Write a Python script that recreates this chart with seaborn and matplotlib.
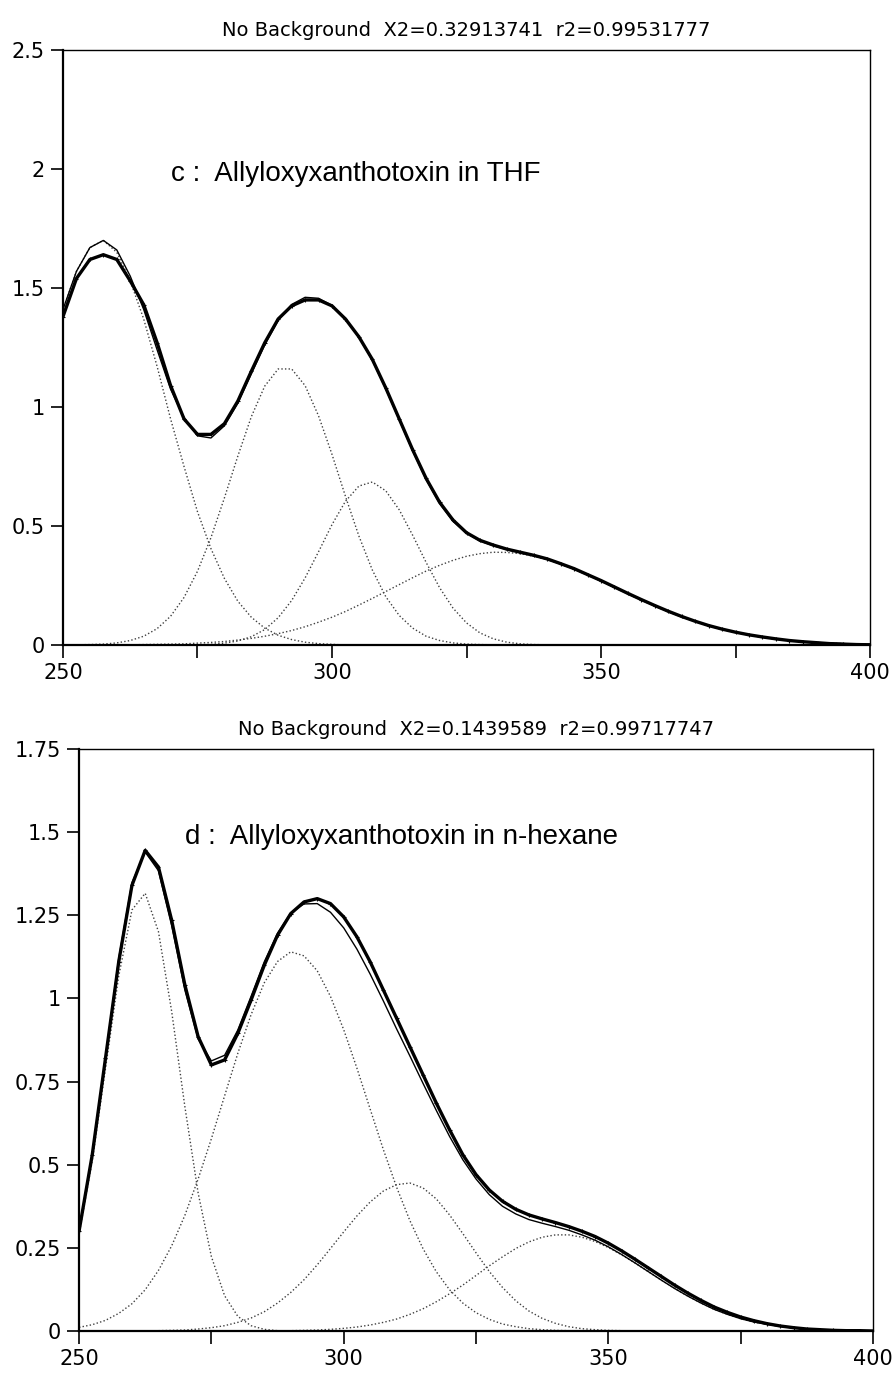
import numpy as np
import matplotlib
matplotlib.use('Agg')
import matplotlib.pyplot as plt
import seaborn as sns

sns.set_style('ticks')
plt.rcParams['font.family'] = ['DejaVu Sans']

# длины волн, нм (общая сетка для обеих панелей)
wl = np.arange(250, 400.1, 2.5)

# --- панель c: THF ---
thf_g1 = [1.41, 1.57, 1.67, 1.70, 1.65, 1.53, 1.37, 1.17, 0.95, 0.75, 0.56, 0.405, 0.28, 0.184,
          0.117, 0.071, 0.041, 0.023, 0.012, 0.006, 0.003] + [0.0] * 40
thf_g2 = [0.0, 0.001, 0.002, 0.004, 0.009, 0.019, 0.037, 0.069, 0.121, 0.200, 0.310, 0.451, 0.618,
          0.794, 0.959, 1.088, 1.16, 1.16, 1.09, 0.963, 0.801, 0.625, 0.458, 0.315, 0.203, 0.124,
          0.071, 0.037, 0.019, 0.009, 0.004, 0.002, 0.001] + [0.0] * 28
thf_g3 = [0.0] * 10 + [0.001, 0.003, 0.008, 0.017, 0.035, 0.065, 0.115, 0.187, 0.282, 0.392, 0.506,
                       0.604, 0.668, 0.685, 0.648, 0.568, 0.461, 0.347, 0.241, 0.155, 0.093, 0.051,
                       0.026, 0.012, 0.005, 0.002, 0.001] + [0.0] * 24
thf_g4 = [0.0, 0.0, 0.0, 0.001, 0.001, 0.001, 0.002, 0.003, 0.004, 0.005, 0.008, 0.011, 0.015, 0.021,
          0.028, 0.037, 0.048, 0.061, 0.077, 0.096, 0.117, 0.141, 0.168, 0.196, 0.225, 0.254, 0.283,
          0.311, 0.335, 0.356, 0.373, 0.384, 0.390, 0.389, 0.384, 0.373, 0.359, 0.340, 0.319, 0.294,
          0.269, 0.242, 0.215, 0.189, 0.164, 0.140, 0.118, 0.099, 0.081, 0.066, 0.053, 0.042, 0.033,
          0.025, 0.019, 0.014, 0.011, 0.008, 0.006, 0.004, 0.003]
thf_fit = [1.41, 1.57, 1.67, 1.70, 1.66, 1.55, 1.41, 1.24, 1.075, 0.955, 0.879, 0.87, 0.921, 1.016,
           1.139, 1.261, 1.364, 1.431, 1.461, 1.457, 1.427, 1.37, 1.294, 1.196, 1.076, 0.946, 0.815,
           0.695, 0.595, 0.52, 0.47, 0.437, 0.417, 0.401, 0.389, 0.375, 0.36, 0.340, 0.319, 0.294,
           0.269, 0.242, 0.215, 0.189, 0.164, 0.140, 0.118, 0.099, 0.081, 0.066, 0.053, 0.042, 0.033,
           0.025, 0.019, 0.014, 0.011, 0.008, 0.006, 0.004, 0.003]
thf_data = [1.38, 1.54, 1.62, 1.64, 1.62, 1.53, 1.43, 1.27, 1.09, 0.95, 0.885, 0.885, 0.93, 1.025,
            1.15, 1.27, 1.37, 1.425, 1.45, 1.45, 1.425, 1.37, 1.295, 1.2, 1.08, 0.95, 0.82, 0.70,
            0.60, 0.525, 0.472, 0.44, 0.42, 0.403, 0.39, 0.377, 0.362, 0.342, 0.321, 0.296, 0.271,
            0.244, 0.217, 0.191, 0.166, 0.142, 0.120, 0.100, 0.082, 0.067, 0.054, 0.043, 0.034,
            0.026, 0.019, 0.014, 0.010, 0.006, 0.004, 0.002, 0.001]

# --- панель d: n-hexane ---
hex_g1 = [0.291, 0.512, 0.789, 1.067, 1.266, 1.316, 1.201, 0.961, 0.674, 0.415, 0.224, 0.106, 0.044,
          0.016, 0.005, 0.001] + [0.0] * 45
hex_g2 = [0.011, 0.019, 0.032, 0.053, 0.082, 0.124, 0.182, 0.256, 0.348, 0.457, 0.578, 0.707, 0.835,
          0.951, 1.047, 1.111, 1.14, 1.128, 1.083, 1.006, 0.906, 0.790, 0.667, 0.545, 0.432, 0.332,
          0.247, 0.178, 0.124, 0.084, 0.055, 0.035, 0.021, 0.013, 0.007, 0.004, 0.002, 0.001] + [0.0] * 23
hex_g3 = [0.0] * 6 + [0.001, 0.002, 0.003, 0.006, 0.010, 0.016, 0.026, 0.039, 0.058, 0.084, 0.116,
                      0.154, 0.199, 0.248, 0.298, 0.346, 0.388, 0.421, 0.440, 0.445, 0.430, 0.397,
                      0.349, 0.293, 0.235, 0.179, 0.131, 0.091, 0.060, 0.038, 0.023, 0.013, 0.007,
                      0.004, 0.002, 0.001] + [0.0] * 19
hex_g4 = [0.0] * 16 + [0.001, 0.002, 0.003, 0.005, 0.008, 0.012, 0.018, 0.026, 0.036, 0.050, 0.067,
                       0.088, 0.112, 0.138, 0.167, 0.196, 0.223, 0.248, 0.268, 0.282, 0.289, 0.289,
                       0.282, 0.269, 0.251, 0.229, 0.205, 0.179, 0.153, 0.128, 0.105, 0.084, 0.065,
                       0.050, 0.037, 0.027, 0.020, 0.014, 0.009, 0.006, 0.004, 0.003, 0.002, 0.001, 0.001]
hex_fit = [0.302, 0.531, 0.821, 1.12, 1.348, 1.44, 1.384, 1.219, 1.025, 0.878, 0.812, 0.829, 0.905,
           1.006, 1.11, 1.196, 1.257, 1.284, 1.285, 1.259, 1.212, 1.148, 1.073, 0.992, 0.908, 0.827,
           0.744, 0.663, 0.585, 0.515, 0.457, 0.41, 0.375, 0.352, 0.335, 0.324, 0.314, 0.303, 0.289,
           0.273, 0.253, 0.23, 0.205, 0.179, 0.153, 0.128, 0.105, 0.084, 0.065, 0.05, 0.037, 0.027,
           0.02, 0.014, 0.009, 0.006, 0.004, 0.003, 0.002, 0.001, 0.001]
hex_data = [0.30, 0.53, 0.82, 1.11, 1.34, 1.445, 1.395, 1.235, 1.04, 0.885, 0.80, 0.815, 0.895, 0.995,
            1.10, 1.19, 1.255, 1.29, 1.30, 1.285, 1.245, 1.185, 1.11, 1.025, 0.94, 0.855, 0.77, 0.685,
            0.605, 0.53, 0.47, 0.424, 0.39, 0.366, 0.349, 0.337, 0.326, 0.314, 0.30, 0.284, 0.264,
            0.241, 0.216, 0.19, 0.164, 0.138, 0.114, 0.092, 0.072, 0.056, 0.042, 0.031, 0.022, 0.015,
            0.010, 0.006, 0.004, 0.002, 0.001, 0.001, 0.0]

x_ticks = [250, 275, 300, 325, 350, 375, 400]
x_labels = ['250', '', '300', '', '350', '', '400']
thf_yticks = [0, 0.5, 1, 1.5, 2, 2.5]
thf_ylabels = ['0', '0.5', '1', '1.5', '2', '2.5']
hex_yticks = [0, 0.25, 0.5, 0.75, 1, 1.25, 1.5, 1.75]
hex_ylabels = ['0', '0.25', '0.5', '0.75', '1', '1.25', '1.5', '1.75']

thf_title = 'No Background  X2=0.32913741  r2=0.99531777'
hex_title = 'No Background  X2=0.1439589  r2=0.99717747'
thf_label = 'c :  Allyloxyxanthotoxin in THF'
hex_label = 'd :  Allyloxyxanthotoxin in n-hexane'

fig = plt.figure(figsize=(8.96, 13.78), dpi=100)
ax1 = fig.add_axes([0.0703, 0.5319, 0.9007, 0.4318])
ax2 = fig.add_axes([0.0882, 0.0341, 0.8862, 0.4224])


def draw_panel(ax, comps, fit, data, yticks, ylabels, ymax, title, label, label_y):
    for g in comps:
        sns.lineplot(x=wl, y=g, ax=ax, color='0.25', lw=1.0, linestyle=(0, (1, 1.6)))
    sns.lineplot(x=wl, y=data, ax=ax, color='black', lw=2.4)
    sns.scatterplot(x=wl, y=data, ax=ax, color='black', marker='+', s=12, linewidth=0.8)
    sns.lineplot(x=wl, y=fit, ax=ax, color='black', lw=1.0)

    ax.set_xlim(250, 400)
    ax.set_ylim(0, ymax)
    ax.set_xticks(x_ticks)
    ax.set_xticklabels(x_labels)
    ax.set_yticks(yticks)
    ax.set_yticklabels(ylabels)
    ax.tick_params(axis='both', direction='out', length=9, width=1.2, labelsize=15, pad=4,
                   color='black', labelcolor='black')
    ax.set_xlabel('')
    ax.set_ylabel('')
    for side in ['left', 'bottom']:
        ax.spines[side].set_linewidth(1.6)
        ax.spines[side].set_color('black')
    for side in ['top', 'right']:
        ax.spines[side].set_visible(True)
        ax.spines[side].set_linewidth(1.0)
        ax.spines[side].set_color('black')
    ax.set_title(title, fontsize=14, pad=10, color='black')
    ax.text(270, label_y, label, fontsize=20, family=['Liberation Sans', 'DejaVu Sans'],
            va='center', ha='left', color='black')


draw_panel(ax1, [thf_g1, thf_g2, thf_g3, thf_g4], thf_fit, thf_data,
           thf_yticks, thf_ylabels, 2.5, thf_title, thf_label, 1.98)
draw_panel(ax2, [hex_g1, hex_g2, hex_g3, hex_g4], hex_fit, hex_data,
           hex_yticks, hex_ylabels, 1.75, hex_title, hex_label, 1.485)

plt.savefig('out.png', dpi=100)
